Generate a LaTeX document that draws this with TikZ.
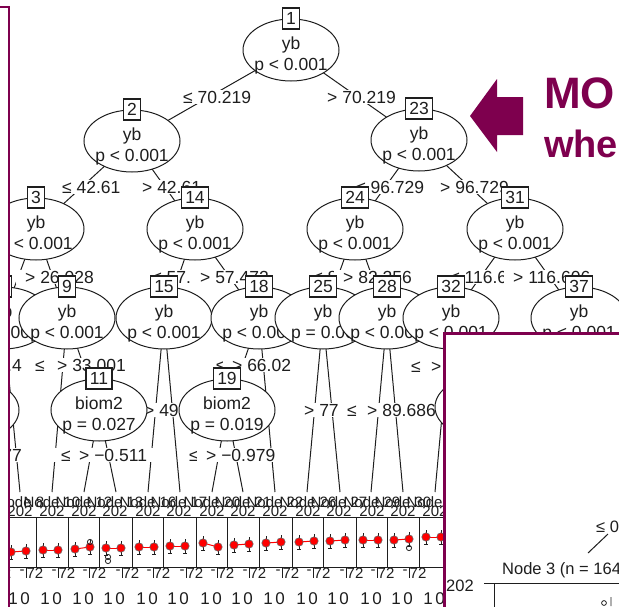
\documentclass[tikz,border=0pt]{standalone}
\usepackage{fontspec}
\setmainfont{Liberation Sans}
\usetikzlibrary{shapes.geometric}
\definecolor{cMaroon}{HTML}{7E004E}
\definecolor{cInk}{HTML}{1E1E1E}
\newcommand{\tf}{\fontsize{17.5}{21}\selectfont}
\newcommand{\pf}{\fontsize{15}{18}\selectfont}
\pgfdeclarelayer{edgelayer}
\pgfdeclarelayer{lbllayer}
\pgfsetlayers{edgelayer,lbllayer,main}
\tikzset{
  ell/.style  ={ellipse,draw=cInk,fill=white,line width=1pt,
                minimum width=96pt,minimum height=62pt,inner sep=0pt},
  itxt/.style ={align=center,font=\tf,inner sep=0pt,text=cInk},
  nbox/.style ={draw=cInk,fill=white,line width=1.2pt,font=\tf,text=cInk,
                inner xsep=4pt,inner ysep=0pt,minimum height=21pt},
  elbl/.style ={fill=white,anchor=west,inner xsep=9pt,xshift=-9pt,inner ysep=1pt,
                font=\tf,text=cInk},
  endlbl/.style={fill=white,anchor=east,inner xsep=1pt,inner ysep=1pt,font=\tf,text=cInk},
  tline/.style={draw=cInk,line width=1pt},
  pline/.style={draw=cInk,line width=1pt},
  ptxt/.style ={font=\pf,inner sep=0pt,text=cInk},
  otxt/.style ={font=\fontsize{16.5}{20}\selectfont,inner sep=0pt,anchor=west,text=cInk},
  dotred/.style={fill=red,draw=black!60,line width=0.6pt},
}
\newcommand{\splitnode}[5]{%
  \node[ell] (#1) at (#2) {};
  \node[itxt] at ([yshift=-5pt]#1.center) {#4\\#5};
  \node[nbox] at (#1.north) {#3};
}

\begin{document}
\begin{tikzpicture}[x=1pt,y=-1pt]
\useasboundingbox (0,0) rectangle (619,606);

\begin{scope}
\clip (10,0) rectangle (619,606);
% inner nodes, in the order they are plotted
\splitnode{n1}{291,50}{1}{yb}{p < 0.001}
\splitnode{n2}{132,141}{2}{yb}{p < 0.001}
\splitnode{n3}{36,229}{3}{yb}{p < 0.001}
\splitnode{n4}{3,318}{4}{yb}{p < 0.001}
\node[ell] (n5) at (-29,410) {};
\splitnode{n9}{67,318}{9}{yb}{p < 0.001}
\splitnode{n11}{99,410}{11}{biom2}{p = 0.027}
\splitnode{n14}{195,229}{14}{yb}{p < 0.001}
\splitnode{n15}{164,318}{15}{yb}{p < 0.001}
\splitnode{n18}{259,318}{18}{yb}{p < 0.001}
\splitnode{n19}{227,410}{19}{biom2}{p = 0.019}
\splitnode{n23}{419,140}{23}{yb}{p < 0.001}
\splitnode{n24}{355,229}{24}{yb}{p < 0.001}
\splitnode{n25}{323,318}{25}{yb}{p = 0.00}
\splitnode{n28}{387,318}{28}{yb}{p < 0.001}
\splitnode{n31}{515,229}{31}{yb}{p < 0.001}
\splitnode{n32}{451,318}{32}{yb}{p < 0.001}
\node[ell] (n34) at (483,407) {};
\splitnode{n37}{579,318}{37}{yb}{p < 0.001}

% tops of the terminal panels
\coordinate (t8)  at (20,492);
\coordinate (t10) at (52,492);
\coordinate (t12) at (84,492);
\coordinate (t13) at (116,492);
\coordinate (t16) at (148,492);
\coordinate (t17) at (180,492);
\coordinate (t20) at (212,492);
\coordinate (t21) at (243,492);
\coordinate (t22) at (275,492);
\coordinate (t26) at (307,492);
\coordinate (t27) at (340,492);
\coordinate (t29) at (371,492);
\coordinate (t30) at (403,492);
\coordinate (t33) at (435,492);

% terminal panels
\draw[pline] (4,517) -- (451,517) (4,567) -- (451,567);
\foreach \b/\k/\ya/\yb in {4/8/552/551,36/10/550/550,68/12/549/547,99/13/548/548,
    132/16/547/547,163/17/546/546,196/20/543/547,227/21/545/544,259/22/543/542,
    292/26/542/541,323/27/541/540,356/29/540/540,387/30/540/539,419/33/537/537}{
  \node[ptxt] at (\b+16,502) {Node \k};
  \node[ptxt] at (\b+16,511) {202};
  \draw[pline] (\b,517) -- (\b,567);
  \draw[pline] (\b-10,567) -- (\b-10,578);
  \node[ptxt] at (\b-14,572) {-};
  \node[ptxt] at (\b-1,573) {72};
  \node[ptxt,font=\fontsize{17}{20}\selectfont] at (\b+9,599) {1};
  \node[ptxt,font=\fontsize{17}{20}\selectfont] at (\b+21,599) {0};
  \draw[red,line width=1pt] (\b+7,\ya) -- (\b+22,\yb);
  \draw[pline,line width=0.8pt] (\b+7,\ya-7) -- (\b+7,\ya+7) (\b+5,\ya+7) -- (\b+9,\ya+7)
        (\b+22,\yb-7) -- (\b+22,\yb+7) (\b+20,\yb+7) -- (\b+24,\yb+7);
  \filldraw[dotred] (\b+7,\ya) circle (4.2pt) (\b+22,\yb) circle (4.2pt);
}
\draw[pline,line width=0.8pt] (90,542) circle (2.6pt) (108,557) circle (2.6pt)
     (108,561) circle (2.6pt) (409,548) circle (2.6pt);
\end{scope}

% connectors
\begin{pgfonlayer}{edgelayer}
\begin{scope}
\clip (10,0) rectangle (619,606);
\draw[tline] (n1.center) -- (n2.center);
\draw[tline] (n1.center) -- (n23.center);
\draw[tline] (n2.center) -- (n3.center);
\draw[tline] (n2.center) -- (n14.center);
\draw[tline] (n3.center) -- (n4.center);
\draw[tline] (n3.center) -- (n9.center);
\draw[tline] (n4.center) -- (n5.center);
\draw[tline] (n4.center) -- (t8);
\draw[tline] (n9.center) -- (t10);
\draw[tline] (n9.center) -- (n11.center);
\draw[tline] (n11.center) -- (t12);
\draw[tline] (n11.center) -- (t13);
\draw[tline] (n14.center) -- (n15.center);
\draw[tline] (n14.center) -- (n18.center);
\draw[tline] (n15.center) -- (t16);
\draw[tline] (n15.center) -- (t17);
\draw[tline] (n18.center) -- (n19.center);
\draw[tline] (n18.center) -- (t22);
\draw[tline] (n19.center) -- (t20);
\draw[tline] (n19.center) -- (t21);
\draw[tline] (n23.center) -- (n24.center);
\draw[tline] (n23.center) -- (n31.center);
\draw[tline] (n24.center) -- (n25.center);
\draw[tline] (n24.center) -- (n28.center);
\draw[tline] (n25.center) -- (t26);
\draw[tline] (n25.center) -- (t27);
\draw[tline] (n28.center) -- (t29);
\draw[tline] (n28.center) -- (t30);
\draw[tline] (n31.center) -- (n32.center);
\draw[tline] (n31.center) -- (n37.center);
\draw[tline] (n32.center) -- (t33);
\draw[tline] (n32.center) -- (n34.center);
\end{scope}
\end{pgfonlayer}

% split labels
\begin{pgfonlayer}{lbllayer}
\begin{scope}
\clip (10,0) rectangle (619,606);
\node[elbl] at (183,97) {≤ 70.219};
\node[elbl] at (327,97) {> 70.219};
\node[elbl] at (62,187) {≤ 42.61};
\node[elbl] at (142,187) {> 42.61};
\node[elbl] at (356,187) {≤ 96.729};
\node[elbl] at (440,187) {> 96.729};
\node[elbl] at (25,277) {> 26.028};
\node[elbl] at (152,277) {≤ 57.472};
\node[elbl] at (200,277) {> 57.472};
\node[elbl] at (313,277) {≤ 82.256};
\node[elbl] at (343,277) {> 82.256};
\node[elbl] at (450,277) {≤ 116.606};
\node[elbl] at (513,277) {> 116.606};
\node[endlbl] at (23,365) {.4};
\node[elbl] at (35,365) {≤ 33.001};
\node[elbl] at (57,365) {> 33.001};
\node[elbl] at (216,365) {≤ 66.02};
\node[elbl] at (232,365) {> 66.02};
\node[elbl] at (411,367) {≤};
\node[elbl] at (431,367) {>};
\node[elbl] at (128,410) {≤ 49};
\node[elbl] at (144,410) {> 49};
\node[elbl] at (304,410) {> 77};
\node[elbl] at (347,410) {≤ 89.686};
\node[elbl] at (367,410) {> 89.686};
\node[endlbl] at (23,455) {77};
\node[elbl] at (61,455) {≤ −0.511};
\node[elbl] at (79,455) {> −0.511};
\node[elbl] at (189,455) {≤ −0.979};
\node[elbl] at (206,455) {> −0.979};
\end{scope}
\end{pgfonlayer}

% slide frame, arrow and heading
\draw[cMaroon,line width=2pt] (0,7) -- (9,7) -- (9,610);
\fill[cMaroon] (470,116) -- (497,79) -- (497,97) -- (523,97) -- (523,135)
     -- (497,135) -- (497,152) -- cycle;
\begin{scope}
\clip (0,0) rectangle (619,606);
\node[cMaroon,font=\bfseries\fontsize{44}{48}\selectfont,anchor=base west,inner sep=0pt]
     (head) at (544,108) {MO};
\node[cMaroon,font=\bfseries\fontsize{38}{42}\selectfont,anchor=base west,inner sep=0pt]
     (sub) at (544,157) {whe};

% second plot laid over the slide
\draw[cMaroon,line width=3pt,fill=white] (444.5,333.5) rectangle (640,630);
\node[otxt] (o1) at (596,527) {≤ 0};
\coordinate (o2) at (588,553);
\coordinate (o3) at (608,534);
\draw[pline] (o2) -- (o3);
\node[otxt] (o4) at (502,570) {Node 3 (n = 164};
\node[otxt] (o5) at (446,586) {202};
\draw[pline] (484,583) -- (630,583) (494,583) -- (494,610);
\draw[pline,line width=0.8pt] (604,603) circle (2.4pt) (611,597) -- (611,606);
\end{scope}
\end{tikzpicture}
\end{document}
